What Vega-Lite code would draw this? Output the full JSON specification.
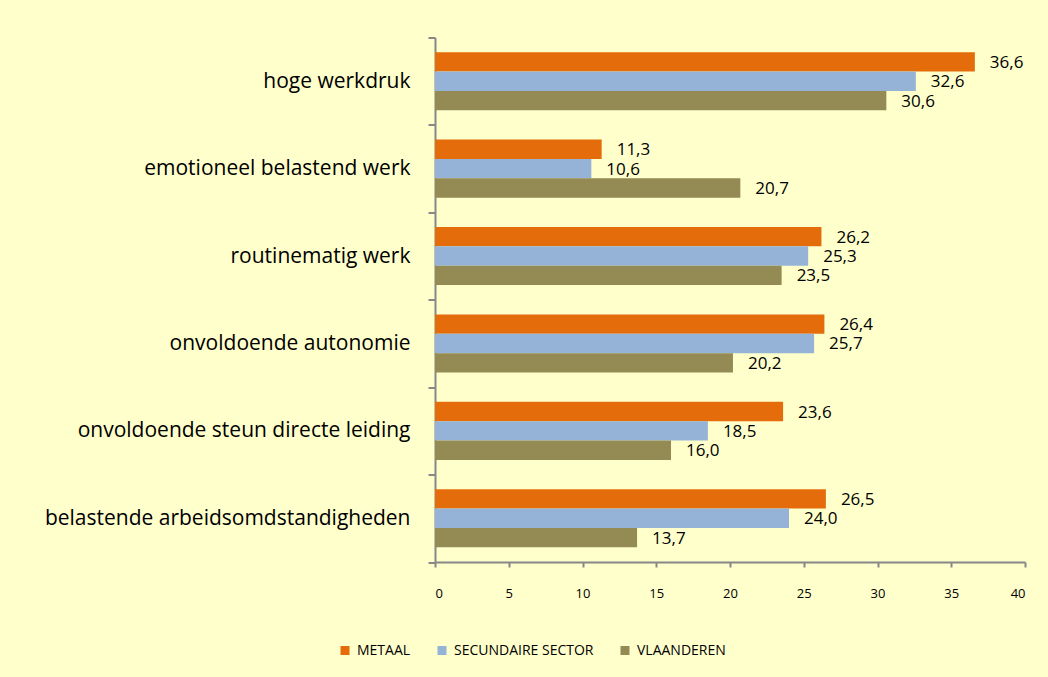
{
  "$schema": "https://vega.github.io/schema/vega-lite/v6.json",
  "autosize": "none",
  "padding": {"left": 435, "top": 37.5, "right": 23, "bottom": 115},
  "width": 590,
  "height": 524.5,
  "background": "#FFFFCC",
  "config": {
    "view": {"stroke": null},
    "font": "Open Sans",
    "locale": {"number": {"decimal": ",", "thousands": ".", "grouping": [3], "currency": ["", " €"]}}
  },
  "data": {
    "values": [
      {"categorie": "hoge werkdruk", "reeks": "METAAL", "waarde": 36.6},
      {"categorie": "hoge werkdruk", "reeks": "SECUNDAIRE SECTOR", "waarde": 32.6},
      {"categorie": "hoge werkdruk", "reeks": "VLAANDEREN", "waarde": 30.6},
      {"categorie": "emotioneel belastend  werk", "reeks": "METAAL", "waarde": 11.3},
      {"categorie": "emotioneel belastend  werk", "reeks": "SECUNDAIRE SECTOR", "waarde": 10.6},
      {"categorie": "emotioneel belastend  werk", "reeks": "VLAANDEREN", "waarde": 20.7},
      {"categorie": "routinematig werk", "reeks": "METAAL", "waarde": 26.2},
      {"categorie": "routinematig werk", "reeks": "SECUNDAIRE SECTOR", "waarde": 25.3},
      {"categorie": "routinematig werk", "reeks": "VLAANDEREN", "waarde": 23.5},
      {"categorie": "onvoldoende autonomie", "reeks": "METAAL", "waarde": 26.4},
      {"categorie": "onvoldoende autonomie", "reeks": "SECUNDAIRE SECTOR", "waarde": 25.7},
      {"categorie": "onvoldoende autonomie", "reeks": "VLAANDEREN", "waarde": 20.2},
      {"categorie": "onvoldoende steun directe leiding", "reeks": "METAAL", "waarde": 23.6},
      {"categorie": "onvoldoende steun directe leiding", "reeks": "SECUNDAIRE SECTOR", "waarde": 18.5},
      {"categorie": "onvoldoende steun directe leiding", "reeks": "VLAANDEREN", "waarde": 16.0},
      {"categorie": "belastende arbeidsomdstandigheden", "reeks": "METAAL", "waarde": 26.5},
      {"categorie": "belastende arbeidsomdstandigheden", "reeks": "SECUNDAIRE SECTOR", "waarde": 24.0},
      {"categorie": "belastende arbeidsomdstandigheden", "reeks": "VLAANDEREN", "waarde": 13.7}
    ]
  },
  "encoding": {
    "y": {
      "field": "categorie",
      "type": "nominal",
      "sort": null,
      "scale": {"paddingInner": 0, "paddingOuter": 0},
      "axis": {
        "title": null,
        "tickBand": "extent",
        "tickSize": 7,
        "tickColor": "#878787",
        "tickWidth": 2,
        "domainColor": "#878787",
        "domainWidth": 2,
        "labelFontSize": 21,
        "labelColor": "#000000",
        "labelPadding": 18,
        "labelLimit": 500
      }
    },
    "yOffset": {
      "field": "reeks",
      "type": "nominal",
      "sort": ["METAAL", "SECUNDAIRE SECTOR", "VLAANDEREN"],
      "scale": {"paddingInner": 0, "paddingOuter": 0.76}
    },
    "x": {
      "field": "waarde",
      "type": "quantitative",
      "scale": {"domain": [0, 40], "nice": false},
      "axis": {
        "title": null,
        "values": [0, 5, 10, 15, 20, 25, 30, 35, 40],
        "grid": false,
        "tickSize": 5,
        "tickColor": "#878787",
        "tickWidth": 2,
        "domainColor": "#878787",
        "domainWidth": 2,
        "labelFontSize": 13,
        "labelColor": "#000000",
        "labelPadding": 20
      }
    }
  },
  "layer": [
    {
      "mark": {"type": "bar"},
      "encoding": {
        "color": {
          "field": "reeks",
          "type": "nominal",
          "sort": ["METAAL", "SECUNDAIRE SECTOR", "VLAANDEREN"],
          "scale": {"domain": ["METAAL", "SECUNDAIRE SECTOR", "VLAANDEREN"], "range": ["#E46C0A", "#95B3D7", "#948A54"]},
          "legend": {
            "title": null,
            "orient": "none",
            "direction": "horizontal",
            "legendX": -97,
            "legendY": 606,
            "symbolType": "square",
            "symbolSize": 81,
            "symbolStrokeWidth": 0,
            "labelFontSize": 14,
            "labelColor": "#000000",
            "labelOffset": 5,
            "columnPadding": 24
          }
        }
      }
    },
    {
      "mark": {"type": "text", "align": "left", "baseline": "middle", "dx": 15, "dy": 1, "fontSize": 17, "color": "#000000"},
      "encoding": {
        "text": {"field": "waarde", "type": "quantitative", "format": ".1f"}
      }
    }
  ]
}
